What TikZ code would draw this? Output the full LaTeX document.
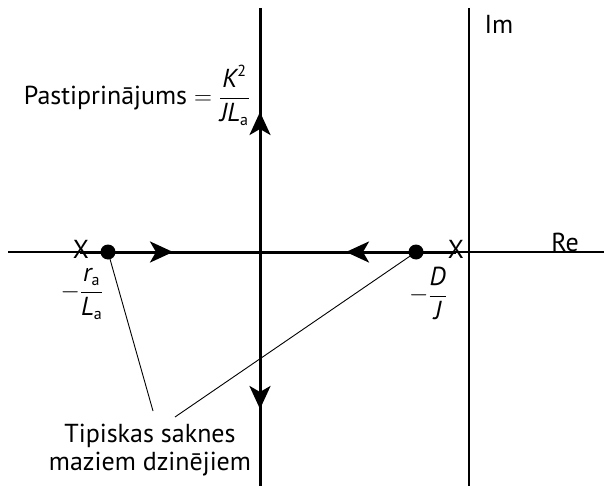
\documentclass[tikz,border=0pt]{standalone}
\usepackage{fontspec}
\setmainfont{PT Sans}
\usetikzlibrary{arrows.meta}
\newcommand{\smallsub}[1]{\mbox{\fontsize{16}{17}\selectfont #1}}
\begin{document}
\begin{tikzpicture}[x=1pt,y=-1pt,
  thinax/.style={line width=1.3pt},
  thickax/.style={line width=3pt},
  tip/.style={line width=3pt,-{Stealth[length=23pt,width=21pt,inset=6pt]}},
  lead/.style={line width=0.9pt},
  lbl/.style={font=\fontsize{26}{28}\selectfont, inner sep=0pt}]
\useasboundingbox (0,0) rectangle (604,486);
% axes
\coordinate (reL) at (8,252);
\coordinate (reR) at (604,252);
\coordinate (imT) at (469,8);
\coordinate (imB) at (469,486);
\draw[thinax] (reL) -- (reR);
\draw[thinax] (imT) -- (imB);
% locus
\coordinate (vT) at (260,8);
\coordinate (vB) at (260,486);
\coordinate (hL) at (80,252);
\coordinate (hR) at (456,252);
\draw[thickax] (vT) -- (vB);
\draw[thickax] (hL) -- (hR);
% arrows
\coordinate (a1s) at (260,150); \coordinate (a1e) at (260,112);
\coordinate (a2s) at (260,370); \coordinate (a2e) at (260,409);
\coordinate (a3s) at (135,252); \coordinate (a3e) at (173,252);
\coordinate (a4s) at (385,252); \coordinate (a4e) at (346,252);
\draw[tip] (a1s) -- (a1e);
\draw[tip] (a2s) -- (a2e);
\draw[tip] (a3s) -- (a3e);
\draw[tip] (a4s) -- (a4e);
% roots
\node[circle,fill,inner sep=0pt,minimum size=15pt] (p1) at (108,252) {};
\node[circle,fill,inner sep=0pt,minimum size=15pt] (p2) at (416,252) {};
\node[lbl] (x1) at (81,249) {X};
\node[lbl] (x2) at (456,249) {X};
% labels
\node[lbl] (re) at (565,242) {Re};
\node[lbl] (im) at (499,24) {Im};
\node[lbl,anchor=east] (gain) at (250,95) {Pastiprinājums $=\displaystyle\frac{\mbox{\itshape K}^{\smallsub{2}}}{\mbox{\itshape JL}_{\smallsub{a}}}$};
\node[lbl] (ra) at (82,294) {$-\displaystyle\frac{\mbox{\itshape r}_{\smallsub{a}}}{\mbox{\itshape L}_{\smallsub{a}}}$};
\node[lbl] (dj) at (428,293) {$-\displaystyle\frac{\mbox{\itshape D}}{\mbox{\itshape J}}$};
\node[lbl,align=center] (typ) at (150,450) {Tipiskas saknes\\maziem dzinējiem};
% leaders
\coordinate (l1e) at (153,411);
\coordinate (l2e) at (175,417);
\draw[lead] (p1.center) -- (l1e);
\draw[lead] (p2.center) -- (l2e);
\end{tikzpicture}
\end{document}
